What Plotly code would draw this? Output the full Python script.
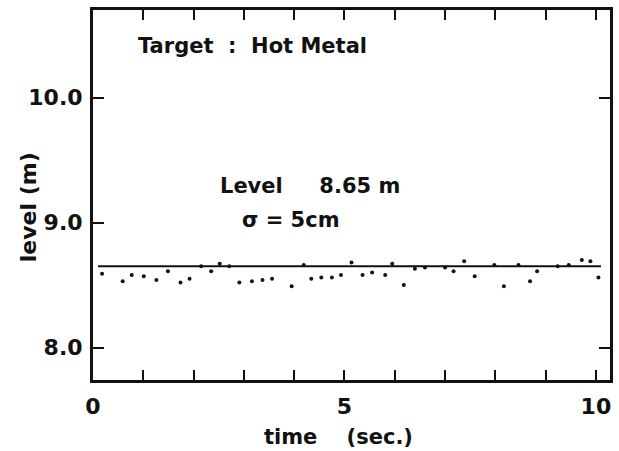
import plotly.graph_objects as go

# Level measurement samples (time in seconds, level in metres)
time_s = [0.18, 0.59, 0.77, 1.01, 1.26, 1.49, 1.74, 1.92, 2.15, 2.35, 2.52,
          2.71, 2.91, 3.16, 3.37, 3.56, 3.95, 4.19, 4.34, 4.54, 4.75, 4.93,
          5.14, 5.36, 5.55, 5.81, 5.95, 6.18, 6.40, 6.60, 7.00, 7.17, 7.38,
          7.59, 7.98, 8.17, 8.46, 8.69, 8.83, 9.24, 9.46, 9.72, 9.89, 10.05]
level_m = [8.59, 8.53, 8.58, 8.57, 8.54, 8.61, 8.52, 8.55, 8.65, 8.61, 8.67,
           8.65, 8.52, 8.53, 8.54, 8.55, 8.49, 8.66, 8.55, 8.56, 8.56, 8.58,
           8.68, 8.58, 8.60, 8.58, 8.67, 8.50, 8.63, 8.64, 8.64, 8.61, 8.69,
           8.57, 8.66, 8.49, 8.66, 8.53, 8.61, 8.65, 8.66, 8.70, 8.69, 8.56]

# Mean level line
mean_level = 8.65
mean_span = [0.1, 10.1]

x_ticks = [0, 5, 10]
y_ticks = [8.0, 9.0, 10.0]
y_tick_text = ["8.0", "9.0", "10.0"]

FONT = "DejaVu Sans"
INK = "#111111"

fig = go.Figure()
fig.add_trace(go.Scatter(
    x=mean_span, y=[mean_level, mean_level], mode="lines",
    line=dict(color=INK, width=2), showlegend=False, hoverinfo="skip"))
fig.add_trace(go.Scatter(
    x=time_s, y=level_m, mode="markers",
    marker=dict(color=INK, size=4), showlegend=False))
# right-hand frame ticks
fig.add_trace(go.Scatter(x=[None], y=[None], yaxis="y2", showlegend=False))

fig.update_layout(
    width=619, height=451,
    margin=dict(l=93, r=6, t=10, b=71),
    paper_bgcolor="white", plot_bgcolor="white",
    font=dict(family=FONT, color=INK),
    xaxis=dict(
        range=[0, 10.28], tickmode="array", tickvals=x_ticks,
        ticktext=[str(v) for v in x_ticks],
        showgrid=False, zeroline=False,
        showline=True, linecolor=INK, linewidth=3, mirror="ticks",
        ticks="inside", ticklen=10, tickwidth=2, tickcolor=INK,
        minor=dict(dtick=1, ticks="inside", ticklen=10, tickwidth=2,
                   tickcolor=INK, showgrid=False),
        tickfont=dict(family=FONT, size=22, weight="bold"),
        ticklabelstandoff=5,
    ),
    yaxis=dict(
        range=[7.74, 10.70], tickmode="array", tickvals=y_ticks,
        ticktext=y_tick_text, showgrid=False, zeroline=False,
        showline=True, linecolor=INK, linewidth=3, mirror=True,
        ticks="inside", ticklen=11, tickwidth=2, tickcolor=INK,
        tickfont=dict(family=FONT, size=22, weight="bold"),
        ticklabelstandoff=3,
    ),
    yaxis2=dict(
        overlaying="y", side="right", range=[7.74, 10.70],
        tickmode="array", tickvals=[8.0, 10.0], showticklabels=False,
        showgrid=False, zeroline=False, showline=False,
        ticks="inside", ticklen=11, tickwidth=2, tickcolor=INK,
    ),
    annotations=[
        dict(text="Target  :  Hot Metal", x=0.85, y=10.41, xref="x", yref="y",
             xanchor="left", yanchor="middle", showarrow=False,
             font=dict(family=FONT, size=21, weight="bold")),
        dict(text="Level     8.65 m", x=2.49, y=9.29, xref="x", yref="y",
             xanchor="left", yanchor="middle", showarrow=False,
             font=dict(family=FONT, size=21, weight="bold")),
        dict(text="σ = 5cm", x=2.93, y=9.02, xref="x", yref="y",
             xanchor="left", yanchor="middle", showarrow=False,
             font=dict(family=FONT, size=21, weight="bold")),
        dict(text="time    (sec.)", x=0.475, y=-0.154, xref="paper", yref="paper",
             xanchor="center", yanchor="middle", showarrow=False,
             font=dict(family=FONT, size=21, weight="bold")),
        dict(text="level (m)", x=-0.125, y=0.468, xref="paper", yref="paper",
             xanchor="center", yanchor="middle", showarrow=False, textangle=-90,
             font=dict(family=FONT, size=22, weight="bold")),
    ],
)

fig.write_html("out.html")
